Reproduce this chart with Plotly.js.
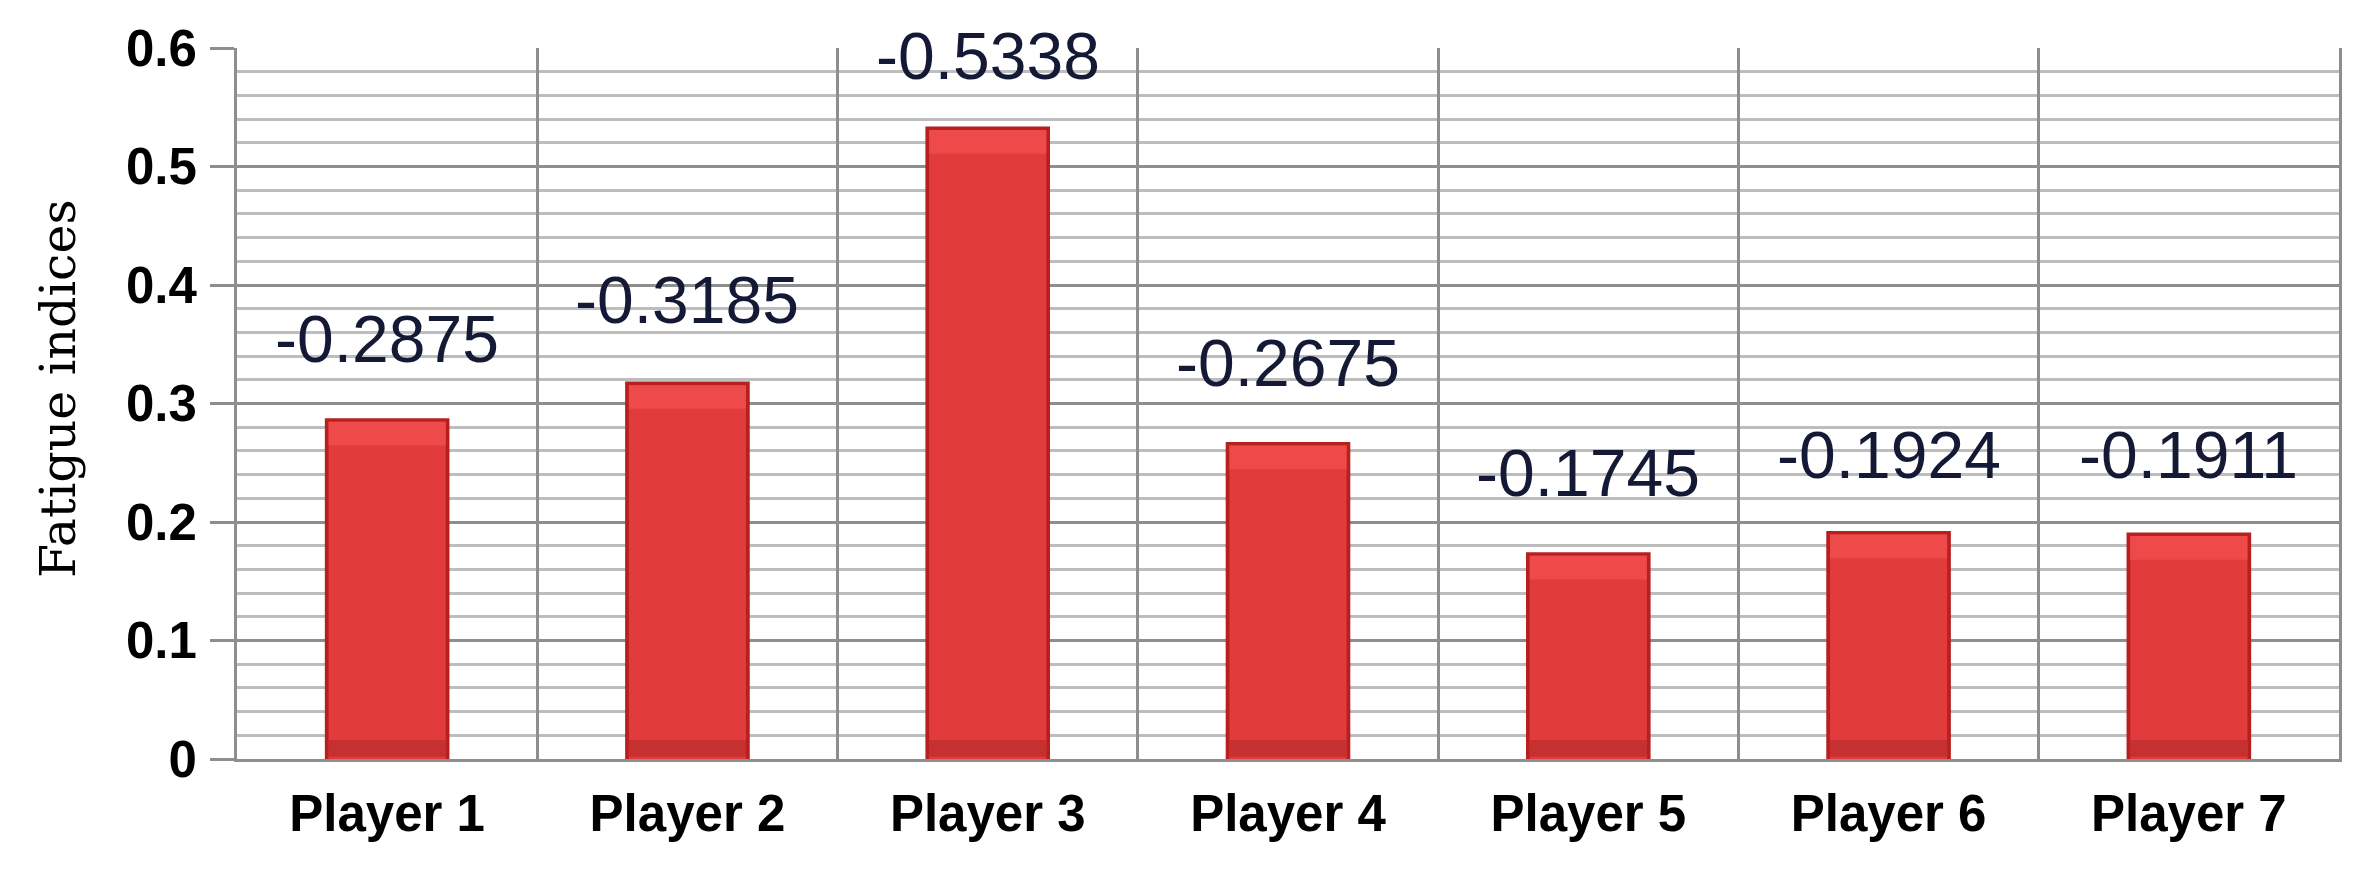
<!DOCTYPE html>
<html>
<head>
<meta charset="utf-8">
<script src="https://cdn.plot.ly/plotly-3.0.1.min.js"></script>
<style>
  html, body { margin: 0; padding: 0; background: #ffffff; }
  #plotContainer { width: 2362px; height: 873px; }
</style>
</head>
<body>
<div id="plotContainer"></div>
<script>
// values
var players = ["Player 1", "Player 2", "Player 3", "Player 4", "Player 5", "Player 6", "Player 7"];
var fatigueIndex = [-0.2875, -0.3185, -0.5338, -0.2675, -0.1745, -0.1924, -0.1911];
var yTicks = [0, 0.1, 0.2, 0.3, 0.4, 0.5, 0.6];

// label lift above bar top, in px (the labels are not all at the same gap)
var labelLift = [40, 43, 31, 40, 40, 37, 39];

var gridGrey = "#8e8e8e";
var minorGrey = "#bdbdbd";
var tickFont = { family: "Liberation Sans, Arial, sans-serif", size: 51, color: "#000000", weight: "bold" };

var barHeights = fatigueIndex.map(function (v) { return Math.abs(v); });

// bars are drawn in layers to fake the bevelled Excel look
var capDepth = 0.02;
var edgeBar = {
  x: players, y: barHeights, type: "bar", width: 0.415,
  marker: { color: "#b82020" }, hoverinfo: "x+y",
};
var bodyBar = {
  x: players, y: barHeights.map(function (h) { return h - 0.003; }), type: "bar", width: 0.39,
  marker: { color: "#e23b3b" }, hoverinfo: "skip",
};
var capBar = {
  x: players, y: barHeights.map(function () { return capDepth; }),
  base: barHeights.map(function (h) { return h - 0.003 - capDepth; }),
  type: "bar", width: 0.39,
  marker: { color: "#ee4a4a" }, hoverinfo: "skip",
};
var footBar = {
  x: players, y: barHeights.map(function () { return 0.014; }),
  base: barHeights.map(function () { return 0.002; }),
  type: "bar", width: 0.39,
  marker: { color: "#c63030" }, hoverinfo: "skip",
};

var annotations = players.map(function (p, i) {
  return {
    x: p,
    y: barHeights[i],
    xref: "x",
    yref: "y",
    text: fatigueIndex[i].toFixed(4),
    showarrow: false,
    yanchor: "bottom",
    yshift: labelLift[i],
    font: { family: "Liberation Sans, Arial, sans-serif", size: 66, color: "#141a35" },
  };
});

// y axis title placed as an annotation, it sits a bit above the plot centre
annotations.push({
  text: "Fatigue indices",
  xref: "paper", yref: "paper",
  x: -0.085, y: 0.521,
  xanchor: "center", yanchor: "middle",
  textangle: -90,
  showarrow: false,
  font: { family: "DejaVu Serif, Liberation Serif, serif", size: 49, color: "#000000" },
});

var layout = {
  width: 2362,
  height: 873,
  margin: { l: 237, r: 23, t: 48, b: 114 },
  paper_bgcolor: "#ffffff",
  plot_bgcolor: "#ffffff",
  showlegend: false,
  barmode: "overlay",
  xaxis: {
    type: "category",
    tickson: "boundaries",
    showgrid: true,
    gridcolor: gridGrey,
    gridwidth: 3,
    showline: true,
    linecolor: gridGrey,
    linewidth: 3,
    ticks: "",
    ticklabelstandoff: 8,
    tickfont: tickFont,
    zeroline: false,
  },
  yaxis: {
    range: [0, 0.6],
    tickvals: yTicks,
    ticktext: yTicks.map(function (t) { return String(t); }),
    showgrid: true,
    gridcolor: gridGrey,
    gridwidth: 3,
    minor: { dtick: 0.02, showgrid: true, gridcolor: minorGrey, gridwidth: 3, ticks: "" },
    showline: true,
    mirror: true,
    linecolor: gridGrey,
    linewidth: 3,
    ticks: "outside",
    ticklen: 24,
    tickwidth: 3,
    tickcolor: gridGrey,
    ticklabelstandoff: 3,
    tickfont: tickFont,
    zeroline: false,
  },
  annotations: annotations,
};

var config = { responsive: false, displayModeBar: false, staticPlot: true };

Plotly.newPlot("plotContainer", [edgeBar, bodyBar, capBar, footBar], layout, config);
</script>
</body>
</html>
